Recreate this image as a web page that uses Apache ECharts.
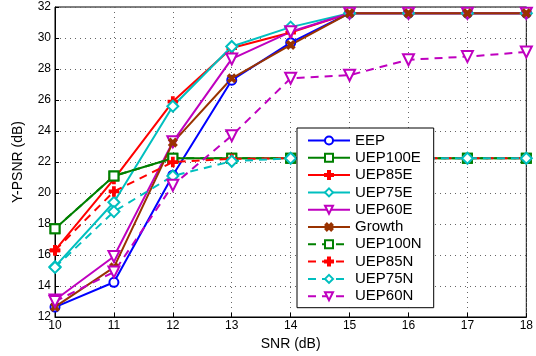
<!DOCTYPE html>
<html>
<head>
<meta charset="utf-8">
<script src="https://cdn.jsdelivr.net/npm/echarts@6/dist/echarts.min.js"></script>
<style>
  html, body { margin: 0; padding: 0; background: #fff; }
  #chart { width: 536px; height: 356px; }
</style>
</head>
<body>
<div id="chart"></div>
<script>
var snr = [10, 11, 12, 13, 14, 15, 16, 17, 18];

var eep     = [12.64, 14.24, 21.15, 27.28, 29.7, 31.6, 31.6, 31.6, 31.6];
var uep100e = [17.7, 21.1, 22.24, 22.24, 22.24, 22.24, 22.24, 22.24, 22.24];
var uep85e  = [16.3, 20.9, 25.9, 29.35, 30.35, 31.6, 31.6, 31.6, 31.6];
var uep75e  = [15.25, 19.4, 25.6, 29.45, 30.7, 31.6, 31.6, 31.6, 31.6];
var uep60e  = [13.1, 15.9, 23.3, 28.65, 30.4, 31.6, 31.6, 31.6, 31.6];
var growth  = [12.65, 15.2, 23.25, 27.4, 29.55, 31.6, 31.6, 31.6, 31.6];
var uep100n = [17.7, 21.1, 22.24, 22.24, 22.24, 22.24, 22.24, 22.24, 22.24];
var uep85n  = [16.3, 20.1, 22.0, 22.2, 22.24, 22.24, 22.24, 22.24, 22.24];
var uep75n  = [15.2, 18.8, 21.1, 22.05, 22.24, 22.24, 22.24, 22.24, 22.24];
var uep60n  = [13.0, 14.9, 20.5, 23.7, 27.4, 27.6, 28.6, 28.8, 29.1];

var plus = 'path://M3,0H5V3H8V5H5V8H3V5H0V3H3Z';

function pairs(arr) {
  return snr.map(function (x, i) { return [x, arr[i]]; });
}

function line(name, data, color, symbol, dashed, size, rot) {
  return {
    name: name,
    type: 'line',
    data: pairs(data),
    symbol: symbol,
    symbolSize: size || 9,
    symbolRotate: rot || 0,
    showAllSymbol: true,
    lineStyle: { color: color, width: 2, type: dashed ? [8, 6] : 'solid' },
    itemStyle: { color: color, borderColor: color, borderWidth: 1.5 },
    emphasis: { disabled: true },
    animation: false
  };
}

var chart = echarts.init(document.getElementById('chart'));
chart.setOption({
  backgroundColor: '#fff',
  textStyle: { fontFamily: 'Liberation Sans, Arial, sans-serif' },
  grid: { left: 55, right: 6, top: 7, bottom: 37, show: true, borderColor: '#000', borderWidth: 1 },
  legend: {
    left: 297, top: 128,
    orient: 'vertical',
    backgroundColor: '#fff',
    borderColor: '#000', borderWidth: 1,
    padding: [5, 12, 4, 10],
    itemWidth: 42, itemHeight: 10, itemGap: 2.3,
    textStyle: { fontSize: 15, lineHeight: 14, color: '#000', fontFamily: 'Liberation Sans, Arial, sans-serif' },
    data: ['EEP', 'UEP100E', 'UEP85E', 'UEP75E', 'UEP60E', 'Growth', 'UEP100N', 'UEP85N', 'UEP75N', 'UEP60N']
  },
  xAxis: {
    type: 'value', min: 10, max: 18, interval: 1,
    name: 'SNR (dB)', nameLocation: 'middle', nameGap: 20,
    nameTextStyle: { fontSize: 14, color: '#000' },
    axisLine: { lineStyle: { color: '#000' } },
    axisTick: { inside: true, length: 4, lineStyle: { color: '#000' } },
    axisLabel: { color: '#000', fontSize: 12, margin: 3 },
    splitLine: { lineStyle: { color: '#666', type: [1, 4] } }
  },
  yAxis: {
    type: 'value', min: 12, max: 32, interval: 2,
    name: 'Y-PSNR (dB)', nameLocation: 'middle', nameGap: 30,
    nameTextStyle: { fontSize: 14, color: '#000' },
    axisLine: { lineStyle: { color: '#000' } },
    axisTick: { inside: true, length: 4, lineStyle: { color: '#000' } },
    axisLabel: { color: '#000', fontSize: 12, margin: 4 },
    splitLine: { lineStyle: { color: '#666', type: [1, 4] } }
  },
  series: [
    line('EEP', eep, '#0000ff', 'emptyCircle', false, 9),
    line('UEP100E', uep100e, '#008000', 'emptyRect', false, 9),
    line('UEP85E', uep85e, '#ff0000', plus, false, 9),
    line('UEP75E', uep75e, '#00bfbf', 'emptyDiamond', false, 11),
    line('UEP60E', uep60e, '#bf00bf', 'emptyTriangle', false, 11, 180),
    line('Growth', growth, '#993300', plus, false, 9, 45),
    line('UEP100N', uep100n, '#008000', 'emptyRect', true, 9),
    line('UEP85N', uep85n, '#ff0000', plus, true, 9),
    line('UEP75N', uep75n, '#00bfbf', 'emptyDiamond', true, 11),
    line('UEP60N', uep60n, '#bf00bf', 'emptyTriangle', true, 11, 180)
  ]
});
</script>
</body>
</html>
